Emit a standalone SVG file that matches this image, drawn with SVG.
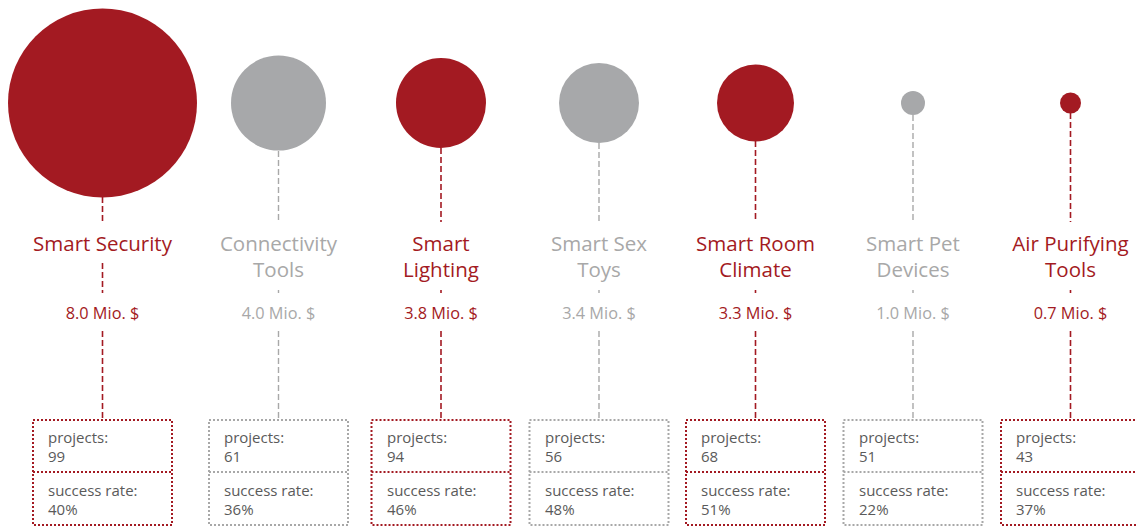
<svg xmlns="http://www.w3.org/2000/svg" width="1136" height="526" viewBox="0 0 1136 526">
<style>
.red{fill:#A31A22}
.grey{fill:#A7A8AA}
.lbl{font-family:"Open Sans","Liberation Sans",sans-serif;font-size:20.5px;text-anchor:middle}
.val{font-family:"Open Sans","Liberation Sans",sans-serif;font-size:16.3px;text-anchor:middle}
.tr{fill:#A31A22}
.tg{fill:#A8A8A8}
.box{fill:none;stroke-width:2;stroke-dasharray:2 2}
.br{stroke:#A31A22}
.bg{stroke:#A8A8A8}
.bt{font-family:"Open Sans","Liberation Sans",sans-serif;font-size:15px;fill:#5A5A5A}
.cr{stroke:#A31A22;stroke-width:1.6;stroke-dasharray:6 3;fill:none}
.cg{stroke:#A8A8A8;stroke-width:1.4;stroke-dasharray:6 3;fill:none}
</style>
<g id="connectors">
<path class="cr" d="M102.5 197V222M102.5 263V293M102.5 331V420"/>
<path class="cg" d="M278.5 151V222M278.5 290V293M278.5 331V420"/>
<path class="cr" d="M441 148V222M441 290V293M441 331V420"/>
<path class="cg" d="M599 143V222M599 290V293M599 331V420"/>
<path class="cr" d="M755.5 141V222M755.5 290V293M755.5 331V420"/>
<path class="cg" d="M913 115V222M913 290V293M913 331V420"/>
<path class="cr" d="M1070.5 113V222M1070.5 290V293M1070.5 331V420"/>
</g>
<g id="smart-security">
<circle class="red" cx="102.5" cy="103" r="94.5"/>
<text class="lbl tr" x="102.5" y="251">Smart Security</text>
<text class="val tr" x="102.5" y="319">8.0 Mio. $</text>
<rect class="box br" x="33" y="420" width="139" height="105"/>
<line class="box br" x1="33" y1="472" x2="172" y2="472"/>
<text class="bt" x="48" y="443">projects:</text>
<text class="bt" x="48" y="462">99</text>
<text class="bt" x="48" y="496">success rate:</text>
<text class="bt" x="48" y="515">40%</text>
</g>
<g id="connectivity-tools">
<circle class="grey" cx="278.5" cy="103" r="47.5"/>
<text class="lbl tg" x="278.5" y="251">Connectivity</text>
<text class="lbl tg" x="278.5" y="277">Tools</text>
<text class="val tg" x="278.5" y="319">4.0 Mio. $</text>
<rect class="box bg" x="209" y="420" width="139" height="105"/>
<line class="box bg" x1="209" y1="472" x2="348" y2="472"/>
<text class="bt" x="224" y="443">projects:</text>
<text class="bt" x="224" y="462">61</text>
<text class="bt" x="224" y="496">success rate:</text>
<text class="bt" x="224" y="515">36%</text>
</g>
<g id="smart-lighting">
<circle class="red" cx="441" cy="103" r="45"/>
<text class="lbl tr" x="441" y="251">Smart</text>
<text class="lbl tr" x="441" y="277">Lighting</text>
<text class="val tr" x="441" y="319">3.8 Mio. $</text>
<rect class="box br" x="371.5" y="420" width="139" height="105"/>
<line class="box br" x1="371.5" y1="472" x2="510.5" y2="472"/>
<text class="bt" x="387" y="443">projects:</text>
<text class="bt" x="387" y="462">94</text>
<text class="bt" x="387" y="496">success rate:</text>
<text class="bt" x="387" y="515">46%</text>
</g>
<g id="smart-sex-toys">
<circle class="grey" cx="599" cy="103" r="40"/>
<text class="lbl tg" x="599" y="251">Smart Sex</text>
<text class="lbl tg" x="599" y="277">Toys</text>
<text class="val tg" x="599" y="319">3.4 Mio. $</text>
<rect class="box bg" x="529.5" y="420" width="139" height="105"/>
<line class="box bg" x1="529.5" y1="472" x2="668.5" y2="472"/>
<text class="bt" x="545" y="443">projects:</text>
<text class="bt" x="545" y="462">56</text>
<text class="bt" x="545" y="496">success rate:</text>
<text class="bt" x="545" y="515">48%</text>
</g>
<g id="smart-room-climate">
<circle class="red" cx="755.5" cy="103" r="38.5"/>
<text class="lbl tr" x="755.5" y="251">Smart Room</text>
<text class="lbl tr" x="755.5" y="277">Climate</text>
<text class="val tr" x="755.5" y="319">3.3 Mio. $</text>
<rect class="box br" x="686" y="420" width="139" height="105"/>
<line class="box br" x1="686" y1="472" x2="825" y2="472"/>
<text class="bt" x="701" y="443">projects:</text>
<text class="bt" x="701" y="462">68</text>
<text class="bt" x="701" y="496">success rate:</text>
<text class="bt" x="701" y="515">51%</text>
</g>
<g id="smart-pet-devices">
<circle class="grey" cx="913" cy="103" r="12"/>
<text class="lbl tg" x="913" y="251">Smart Pet</text>
<text class="lbl tg" x="913" y="277">Devices</text>
<text class="val tg" x="913" y="319">1.0 Mio. $</text>
<rect class="box bg" x="843.5" y="420" width="139" height="105"/>
<line class="box bg" x1="843.5" y1="472" x2="982.5" y2="472"/>
<text class="bt" x="859" y="443">projects:</text>
<text class="bt" x="859" y="462">51</text>
<text class="bt" x="859" y="496">success rate:</text>
<text class="bt" x="859" y="515">22%</text>
</g>
<g id="air-purifying-tools">
<circle class="red" cx="1070.5" cy="103" r="10.5"/>
<text class="lbl tr" x="1070.5" y="251">Air Purifying</text>
<text class="lbl tr" x="1070.5" y="277">Tools</text>
<text class="val tr" x="1070.5" y="319">0.7 Mio. $</text>
<rect class="box br" x="1001" y="420" width="139" height="105"/>
<line class="box br" x1="1001" y1="472" x2="1140" y2="472"/>
<text class="bt" x="1016" y="443">projects:</text>
<text class="bt" x="1016" y="462">43</text>
<text class="bt" x="1016" y="496">success rate:</text>
<text class="bt" x="1016" y="515">37%</text>
</g>
</svg>
